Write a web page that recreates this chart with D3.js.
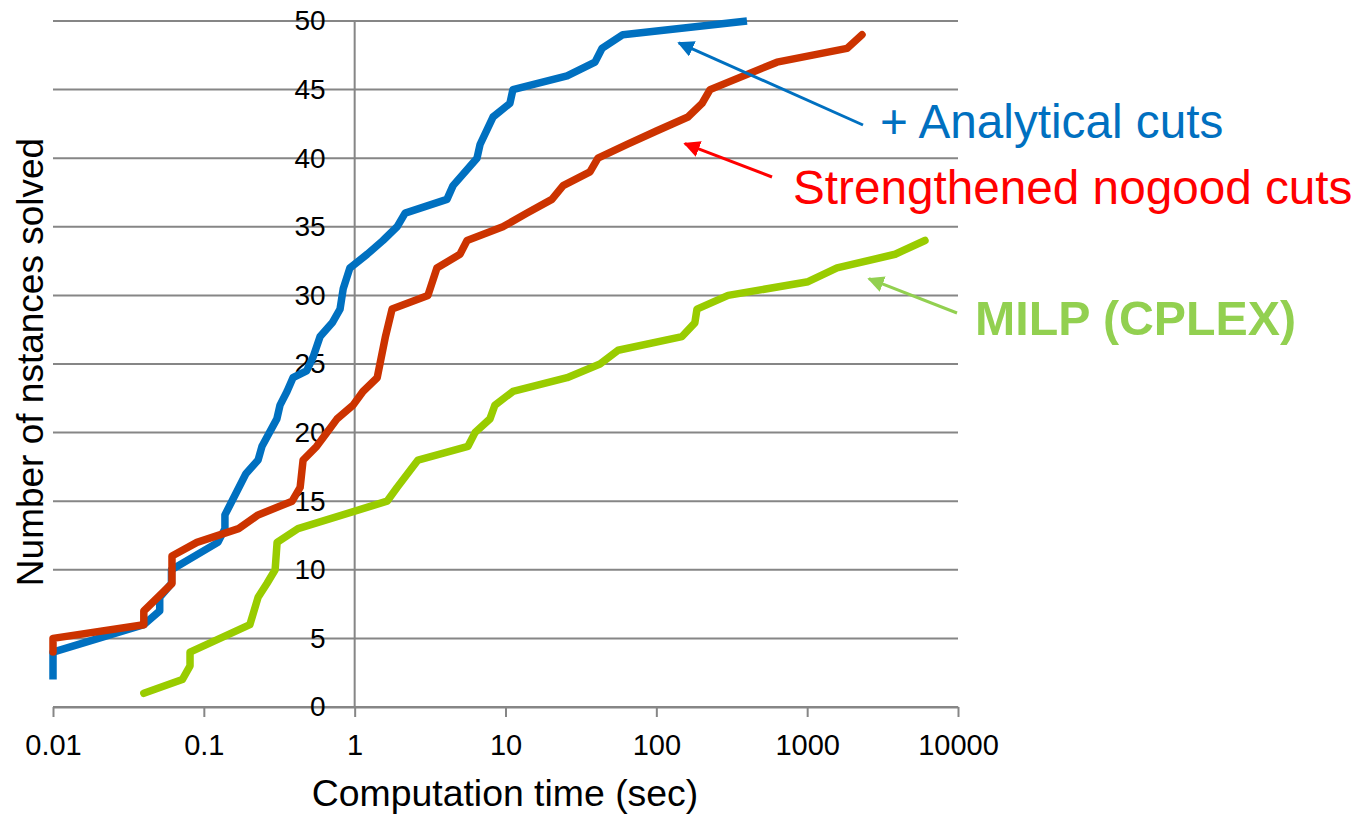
<!DOCTYPE html>
<html>
<head>
<meta charset="utf-8">
<script src="https://cdn.jsdelivr.net/npm/d3@7"></script>
<style>
  body { margin: 0; background: #fff; }
  svg { display: block; font-family: "Liberation Sans", Arial, sans-serif; }
</style>
</head>
<body>
<svg id="chart" width="1365" height="815"></svg>
<script>
// ---- data ----
const xTicks = [0.01, 0.1, 1, 10, 100, 1000, 10000];
const xTickLabels = ["0.01", "0.1", "1", "10", "100", "1000", "10000"];
const yTicks = [0, 5, 10, 15, 20, 25, 30, 35, 40, 45, 50];

const seriesNames = ["+ Analytical cuts", "Strengthened nogood cuts", "MILP (CPLEX)"];

// [time (sec), instances solved]
const analyticalCuts = [
  [0.01, 2], [0.01, 4], [0.04, 6], [0.051, 7], [0.051, 8], [0.061, 9], [0.061, 10],
  [0.124, 12], [0.138, 13], [0.138, 14], [0.19, 17], [0.229, 18], [0.243, 19],
  [0.305, 21], [0.32, 22], [0.356, 23], [0.39, 24], [0.48, 24.5], [0.53, 25.5],
  [0.59, 27], [0.71, 28], [0.8, 29], [0.84, 30.5], [0.93, 32], [1.21, 33],
  [1.54, 34], [1.91, 35], [2.16, 36], [4.09, 37], [4.49, 38], [6.47, 40],
  [6.78, 41], [8.26, 43], [10.7, 44], [11.2, 45], [25.6, 46], [39.2, 47],
  [43.6, 48], [60, 49], [399, 50]
];
const nogoodCuts = [
  [0.01, 4], [0.01, 5], [0.04, 6], [0.04, 7], [0.0615, 9], [0.0615, 11], [0.09, 12],
  [0.17, 13], [0.229, 14], [0.385, 15], [0.435, 16], [0.455, 18], [0.56, 19],
  [0.655, 20], [0.764, 21], [0.976, 22], [1.135, 23], [1.41, 24], [1.6, 27],
  [1.77, 29], [3.06, 30], [3.51, 32], [4.99, 33], [5.56, 34], [9.6, 35],
  [13.9, 36], [20.3, 37], [24.1, 38], [36.3, 39], [41, 40], [64, 41], [101, 42],
  [162, 43], [201, 44], [227, 45], [631, 47], [1836, 48], [2310, 49]
];
const milpCplex = [
  [0.04, 1], [0.072, 2], [0.081, 3], [0.081, 4], [0.202, 6], [0.229, 8],
  [0.262, 9], [0.297, 10], [0.306, 12], [0.421, 13], [1.64, 15], [1.91, 16],
  [2.63, 18], [5.64, 19], [6.28, 20], [7.89, 21], [8.5, 22], [11.2, 23],
  [25.6, 24], [42.3, 25], [55.8, 26], [148, 27], [180, 28], [186, 29],
  [299, 30], [1014, 31], [1578, 32], [3830, 33], [6040, 34]
];

// ---- layout / style ----
const svg = d3.select("#chart");
const W = 1365, H = 815;
svg.append("rect").attr("width", W).attr("height", H).attr("fill", "#fff");

const x = d3.scaleLog().domain([0.01, 10000]).range([53, 958]);
const y = d3.scaleLinear().domain([0, 50]).range([707, 21]);
const gridColor = "#868686";

// horizontal gridlines
svg.append("g").selectAll("line").data(yTicks).join("line")
  .attr("x1", x(0.01)).attr("x2", x(10000))
  .attr("y1", d => y(d)).attr("y2", d => y(d))
  .attr("stroke", gridColor).attr("stroke-width", 2);

// vertical axis (crosses at x = 1)
svg.append("line")
  .attr("x1", x(1)).attr("x2", x(1)).attr("y1", y(0)).attr("y2", y(50))
  .attr("stroke", gridColor).attr("stroke-width", 2);

// x-axis via d3.axisBottom
const xAxis = d3.axisBottom(x).tickValues(xTicks)
  .tickFormat((d, i) => xTickLabels[i]).tickSize(10).tickSizeOuter(0).tickPadding(17);
const gx = svg.append("g").attr("transform", `translate(0,${y(0)})`).call(xAxis);
gx.select(".domain").attr("stroke", gridColor).attr("stroke-width", 2);
gx.selectAll(".tick line").attr("stroke", gridColor).attr("stroke-width", 2);
gx.selectAll(".tick text").attr("font-size", 29).attr("fill", "#000")
  .attr("font-family", "Liberation Sans, Arial, sans-serif");

// y-axis labels next to axis at x = 1
const yAxis = d3.axisLeft(y).tickValues(yTicks).tickSize(0).tickPadding(29);
const gy = svg.append("g").attr("transform", `translate(${x(1)},0)`).call(yAxis);
gy.select(".domain").remove();
gy.selectAll(".tick text").attr("font-size", 28).attr("fill", "#000")
  .attr("font-family", "Liberation Sans, Arial, sans-serif");

// axis titles
svg.append("text").attr("x", 505).attr("y", 806).attr("text-anchor", "middle")
  .attr("font-size", 37.4).attr("fill", "#000").text("Computation time (sec)");
svg.append("text").attr("transform", "translate(43,362) rotate(-90)")
  .attr("text-anchor", "middle").attr("font-size", 37).attr("fill", "#000")
  .text("Number of nstances solved");

// lines
const line = d3.line().x(d => x(d[0])).y(d => y(d[1]));
const series = [
  { data: analyticalCuts, color: "#0070C0", cap: "butt" },
  { data: nogoodCuts, color: "#CC3300", cap: "round" },
  { data: milpCplex, color: "#99CC00", cap: "round" }
];
svg.append("g").selectAll("path").data(series).join("path")
  .attr("d", d => line(d.data))
  .attr("fill", "none").attr("stroke", d => d.color)
  .attr("stroke-width", 7.5).attr("stroke-linejoin", "round")
  .attr("stroke-linecap", d => d.cap);

// annotations (arrows + labels)
const defs = svg.append("defs");
const annotations = [
  { text: seriesNames[0], color: "#0070C0", weight: "normal", size: 47.7, tx: 880, ty: 138,
    from: [863, 125], to: [677, 42] },
  { text: seriesNames[1], color: "#FF0000", weight: "normal", size: 47.7, tx: 793, ty: 204,
    from: [772, 177], to: [683, 143] },
  { text: seriesNames[2], color: "#92D050", weight: "bold", size: 48.3, tx: 975, ty: 335,
    from: [957, 313], to: [867, 278] }
];
annotations.forEach((a, i) => {
  defs.append("marker").attr("id", "ah" + i)
    .attr("viewBox", "0 0 10 10").attr("refX", 9).attr("refY", 5)
    .attr("markerWidth", 5.5).attr("markerHeight", 5.5).attr("markerUnits", "strokeWidth")
    .attr("orient", "auto")
    .append("path").attr("d", "M0,0 L10,5 L0,10 Z").attr("fill", a.color);
  const dx = a.to[0] - a.from[0], dy = a.to[1] - a.from[1];
  const len = Math.hypot(dx, dy);
  svg.append("line")
    .attr("x1", a.from[0]).attr("y1", a.from[1])
    .attr("x2", a.to[0] - dx / len * 2).attr("y2", a.to[1] - dy / len * 2)
    .attr("stroke", a.color).attr("stroke-width", 3)
    .attr("marker-end", `url(#ah${i})`);
  svg.append("text").attr("x", a.tx).attr("y", a.ty)
    .attr("font-size", a.size).attr("font-weight", a.weight)
    .attr("fill", a.color).text(a.text);
});
</script>
</body>
</html>
